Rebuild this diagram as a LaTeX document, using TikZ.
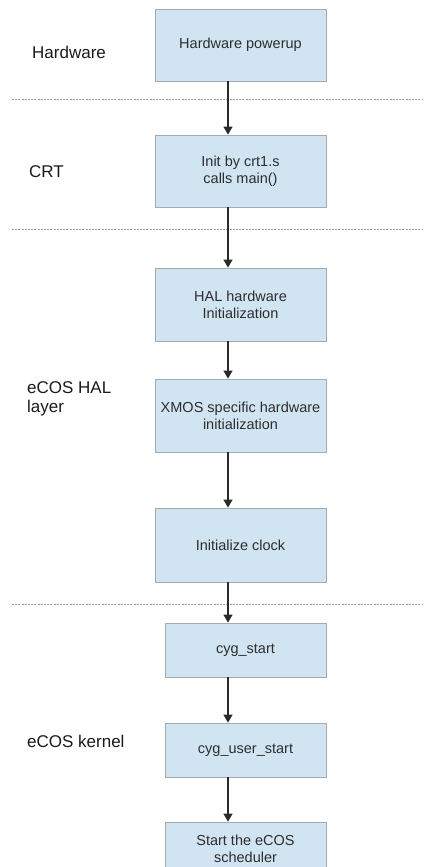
\documentclass[tikz,border=0pt]{standalone}
\usepackage{fontspec}
\setmainfont{Liberation Sans}
\usetikzlibrary{arrows.meta}
\definecolor{boxfill}{HTML}{D0E4F2}
\definecolor{boxline}{HTML}{A3AAB0}
\definecolor{textcol}{HTML}{2E2E2E}
\definecolor{lblcol}{HTML}{1A1A1A}
\definecolor{sepcol}{HTML}{9A9A9A}
\definecolor{arrowcol}{HTML}{2A2A2A}
\begin{document}
\begin{tikzpicture}[x=1pt,y=-1pt,
  box/.style={draw=boxline, fill=boxfill, line width=0.8pt, inner sep=0pt, align=center, text=textcol, font=\fontsize{14.5}{17}\selectfont},
  wbox/.style={box, minimum width=171pt},
  nbox/.style={box, minimum width=161pt, minimum height=54pt},
  lbl/.style={anchor=west, align=left, text=lblcol, font=\fontsize{17}{19}\selectfont, inner sep=0pt},
  sep/.style={draw=sepcol, line width=0.8pt, dash pattern=on 2pt off 1.2pt},
  flow/.style={draw=arrowcol, line width=1.4pt, -{Triangle[width=9pt,length=8pt]}}]
\useasboundingbox (0,0) rectangle (423,867);

% separators
\draw[sep] (12,99) -- (423,99);
\draw[sep] (12,229) -- (423,229);
\draw[sep] (12,604) -- (423,604);

% layer labels
\node[lbl] (lhw) at (32,52) {Hardware};
\node[lbl] (lcrt) at (29,172) {CRT};
\node[lbl] (lhal) at (27,398.5) {eCOS HAL\\layer};
\node[lbl] (lker) at (27,741) {eCOS kernel};

% boxes
\node[wbox, minimum height=72pt] (b1) at (240.5,45) {Hardware powerup};
\node[wbox, minimum height=72pt] (b2) at (240.5,171) {Init by crt1.s\\calls main()};
\node[wbox, minimum height=73pt] (b3) at (240.5,304.5) {HAL hardware\\Initialization};
\node[wbox, minimum height=73pt] (b4) at (240.5,415.5) {XMOS specific hardware\\initialization};
\node[wbox, minimum height=74pt] (b5) at (240.5,545) {Initialize clock};
\node[nbox] (b6) at (245.5,650) {cyg\_start};
\node[nbox] (b7) at (245.5,750) {cyg\_user\_start};
\node[nbox] (b8) at (245.5,849) {Start the eCOS\\scheduler};

% connectors
\coordinate (ax) at (228,0);
\draw[flow] (b1.south -| ax) -- (b2.north -| ax);
\draw[flow] (b2.south -| ax) -- (b3.north -| ax);
\draw[flow] (b3.south -| ax) -- (b4.north -| ax);
\draw[flow] (b4.south -| ax) -- (b5.north -| ax);
\draw[flow] (b5.south -| ax) -- (b6.north -| ax);
\draw[flow] (b6.south -| ax) -- (b7.north -| ax);
\draw[flow] (b7.south -| ax) -- (b8.north -| ax);
\end{tikzpicture}
\end{document}
